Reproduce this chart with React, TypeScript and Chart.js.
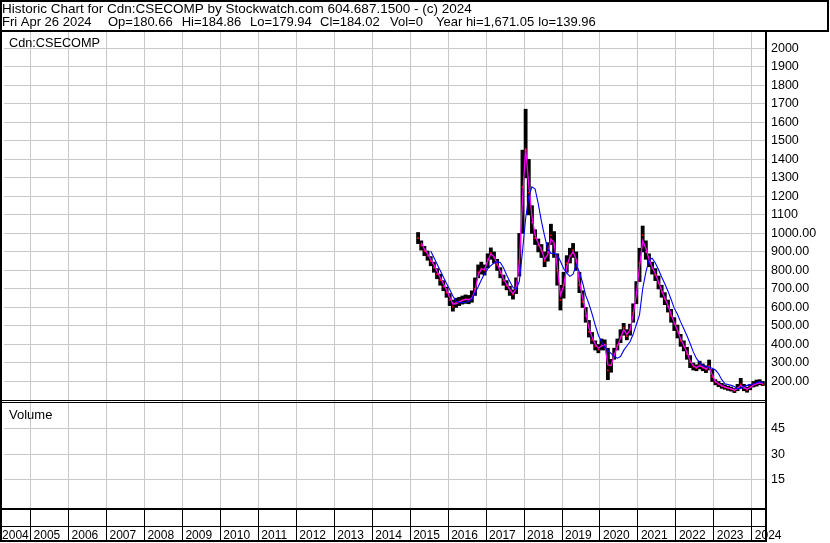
import React, { useEffect, useRef } from 'react';
import { Chart, registerables } from 'chart.js';

Chart.register(...registerables);

// ---------- data (monthly) ----------
const MONTHS = [
  '2015-03', '2015-04', '2015-05', '2015-06', '2015-07', '2015-08', '2015-09', '2015-10', '2015-11', '2015-12',
  '2016-01', '2016-02', '2016-03', '2016-04', '2016-05', '2016-06', '2016-07', '2016-08', '2016-09', '2016-10', '2016-11', '2016-12',
  '2017-01', '2017-02', '2017-03', '2017-04', '2017-05', '2017-06', '2017-07', '2017-08', '2017-09', '2017-10', '2017-11', '2017-12',
  '2018-01', '2018-02', '2018-03', '2018-04', '2018-05', '2018-06', '2018-07', '2018-08', '2018-09', '2018-10', '2018-11', '2018-12',
  '2019-01', '2019-02', '2019-03', '2019-04', '2019-05', '2019-06', '2019-07', '2019-08', '2019-09', '2019-10', '2019-11', '2019-12',
  '2020-01', '2020-02', '2020-03', '2020-04', '2020-05', '2020-06', '2020-07', '2020-08', '2020-09', '2020-10', '2020-11', '2020-12',
  '2021-01', '2021-02', '2021-03', '2021-04', '2021-05', '2021-06', '2021-07', '2021-08', '2021-09', '2021-10', '2021-11', '2021-12',
  '2022-01', '2022-02', '2022-03', '2022-04', '2022-05', '2022-06', '2022-07', '2022-08', '2022-09', '2022-10', '2022-11', '2022-12',
  '2023-01', '2023-02', '2023-03', '2023-04', '2023-05', '2023-06', '2023-07', '2023-08', '2023-09', '2023-10', '2023-11', '2023-12',
  '2024-01', '2024-02', '2024-03', '2024-04',
];

const HIGH = [
  1005, 960, 930, 905, 875, 845, 810, 780, 745, 710,
  675, 640, 650, 655, 662, 668, 665, 690, 760, 830, 845, 830,
  890, 922, 900, 860, 815, 775, 745, 715, 695, 760, 1000, 1450,
  1671, 1400, 1150, 1020, 970, 940, 900, 950, 1050, 1010, 890, 720,
  790, 880, 920, 946, 900, 790, 690, 600, 530, 465, 420, 400,
  430, 425, 380, 320, 380, 430, 480, 514, 480, 510, 620, 740,
  920, 1040, 960, 890, 845, 810, 770, 720, 680, 640, 590, 545,
  505, 455, 420, 385, 340, 300, 290, 310, 295, 285, 316, 265,
  210, 200, 190, 182, 175, 170, 162, 185, 217, 185, 170, 185,
  200, 208, 210, 200,
];

const LOW = [
  945, 910, 880, 855, 825, 790, 755, 720, 690, 655,
  610, 580, 600, 610, 618, 622, 620, 628, 665, 760, 780, 775,
  815, 860, 840, 800, 760, 720, 695, 665, 645, 675, 770, 1000,
  1300, 1100, 1000, 940, 900, 870, 820, 850, 940, 870, 720, 586,
  650, 790, 840, 870, 800, 680, 600, 520, 440, 405, 370, 355,
  370, 370, 210, 250, 320, 370, 410, 450, 425, 450, 520, 620,
  740, 900, 860, 820, 780, 745, 700, 655, 615, 575, 520, 475,
  435, 390, 365, 320, 275, 262, 258, 268, 258, 248, 262, 200,
  182, 172, 163, 158, 152, 148, 140, 150, 165, 150, 142, 155,
  170, 175, 182, 178,
];

const CLOSE = [
  975, 935, 905, 880, 850, 815, 780, 748, 712, 680,
  640, 605, 625, 632, 640, 645, 642, 650, 700, 790, 810, 800,
  860, 895, 870, 830, 785, 745, 718, 690, 670, 710, 850, 1250,
  1450, 1220, 1060, 975, 935, 905, 850, 900, 990, 940, 800, 640,
  720, 840, 880, 910, 850, 720, 630, 555, 470, 425, 390, 372,
  395, 400, 260, 290, 350, 395, 440, 490, 445, 480, 570, 680,
  840, 990, 900, 850, 810, 775, 730, 685, 645, 605, 555, 510,
  470, 420, 390, 350, 305, 280, 272, 288, 275, 265, 285, 225,
  195, 185, 175, 168, 163, 158, 150, 165, 185, 165, 155, 170,
  185, 188, 195, 184,
];

const MA_SHORT = [
  null, 950, 915, 890, 860, 830, 795, 762, 728, 695,
  655, 618, 620, 630, 638, 644, 643, 648, 690, 775, 808, 805,
  850, 890, 875, 838, 795, 755, 725, 698, 675, 700, 840, 1180,
  1460, 1260, 1090, 990, 945, 912, 860, 885, 970, 950, 820, 665,
  715, 820, 875, 900, 860, 740, 655, 575, 490, 440, 402, 380,
  392, 398, 290, 285, 340, 390, 435, 480, 455, 478, 560, 670,
  820, 960, 920, 860, 818, 782, 738, 692, 650, 612, 562, 518,
  478, 430, 395, 358, 312, 285, 275, 285, 278, 268, 280, 235,
  200, 188, 178, 170, 165, 160, 153, 162, 178, 168, 158, 168,
  180, 188, 193, 188,
];

const MA_LONG = [
  null, null, null, null, 905, 870, 835, 800, 765, 730,
  697, 662, 633, 627, 626, 628, 632, 645, 680, 712, 748, 782,
  808, 826, 840, 846, 843, 815, 775, 740, 708, 698, 740, 900,
  1080, 1200, 1252, 1240, 1160, 1065, 985, 915, 892, 892, 885, 850,
  810, 785, 768, 780, 830, 790, 735, 665, 620, 565, 505, 450,
  415, 385, 368, 352, 335, 326, 335, 368, 392, 415, 455, 508,
  560, 700, 790, 856, 866, 840, 805, 765, 728, 688, 643, 595,
  563, 522, 485, 447, 405, 360, 325, 302, 287, 282, 276, 272,
  262, 242, 210, 188, 184, 179, 173, 160, 163, 173, 179, 183,
  187, 193, 199, 192,
];

const PRICE_TICKS = [200, 300, 400, 500, 600, 700, 800, 900, 1000, 1100, 1200, 1300, 1400, 1500, 1600, 1700, 1800, 1900, 2000];
const VOLUME_TICKS = [15, 30, 45];
const YEAR_TICKS = [2004.17, 2005, 2006, 2007, 2008, 2009, 2010, 2011, 2012, 2013, 2014, 2015, 2016, 2017, 2018, 2019, 2020, 2021, 2022, 2023, 2024];
const YEAR_LABELS = ['2004', '2005', '2006', '2007', '2008', '2009', '2010', '2011', '2012', '2013', '2014', '2015', '2016', '2017', '2018', '2019', '2020', '2021', '2022', '2023', '2024'];

const X_MIN = 2004.3;
const X_MAX = 2024.374;
const PRICE_MIN = 94.7;
const PRICE_MAX = 2098.9;
const VOL_MIN = -1.84;
const VOL_MAX = 60.84;

const HEADER_1 = 'Historic Chart for Cdn:CSECOMP by Stockwatch.com 604.687.1500 - (c) 2024';
const HEADER_2: [string, number][] = [
  ['Fri Apr 26 2024', 2],
  ['Op=180.66', 108],
  ['Hi=184.86', 181.7],
  ['Lo=179.94', 250],
  ['Cl=184.02', 320],
  ['Vol=0', 390],
  ['Year hi=1,671.05', 436],
  ['lo=139.96', 538.3],
];
const SYMBOL_LABEL = 'Cdn:CSECOMP';
const VOLUME_LABEL = 'Volume';

const FONT = '"Liberation Sans", Arial, sans-serif';

function toYear(s: string): number {
  const [y, m] = s.split('-').map(Number);
  return y + (m - 0.5) / 12;
}

const framePlugin = {
  id: 'frame',
  afterDraw(chart: any) {
    const ctx = chart.ctx as CanvasRenderingContext2D;
    const { right, top, bottom } = chart.chartArea;
    const yPrice = chart.scales.y;
    ctx.save();
    ctx.fillStyle = '#000';
    // header box
    ctx.fillRect(0, 0, 829, 2);
    ctx.fillRect(827, 0, 2, 31);
    ctx.fillRect(0, 30, 829, 2);
    // left border
    ctx.fillRect(0, 0, 2, 542);
    // right border of plot
    ctx.fillRect(right - 1, top, 2, 542 - top);
    // panel separator (double line)
    ctx.fillRect(0, Math.round(yPrice.bottom) - 1, right, 1);
    ctx.fillRect(0, Math.round(yPrice.bottom) + 1, right, 1);
    // x axis lines
    ctx.fillRect(0, bottom - 1, right + 1, 2);
    ctx.fillRect(0, 526, right, 1);
    ctx.fillRect(0, 540, right + 1, 2);

    // texts
    ctx.textBaseline = 'alphabetic';
    ctx.textAlign = 'left';
    ctx.font = `13.5px ${FONT}`;
    ctx.fillText(HEADER_1, 2, 12.5);
    ctx.font = `13px ${FONT}`;
    HEADER_2.forEach(([t, x]) => ctx.fillText(t, x, 26));
    ctx.font = `12.7px ${FONT}`;
    ctx.fillText(SYMBOL_LABEL, 9, 46.5);
    ctx.font = `13px ${FONT}`;
    ctx.fillText(VOLUME_LABEL, 9, 418.5);
    ctx.restore();
  },
};

export default function App() {
  const ref = useRef<HTMLCanvasElement | null>(null);

  useEffect(() => {
    if (!ref.current) return;
    const xs = MONTHS.map(toYear);
    const chart = new Chart(ref.current, {
      type: 'bar',
      data: {
        datasets: [
          {
            type: 'line',
            label: 'MA long',
            data: xs.map((x, i) => ({ x, y: MA_LONG[i] })),
            borderColor: '#0000ff',
            borderWidth: 1.1,
            pointRadius: 0,
            tension: 0,
            xAxisID: 'x',
            yAxisID: 'y',
            order: 0,
          } as any,
          {
            type: 'line',
            label: 'MA short',
            data: xs.map((x, i) => ({ x, y: MA_SHORT[i] })),
            borderColor: '#ff00ff',
            borderWidth: 1.3,
            pointRadius: 0,
            tension: 0,
            xAxisID: 'x',
            yAxisID: 'y',
            order: 1,
          } as any,
          {
            type: 'line',
            label: 'Close',
            data: xs.map((x, i) => ({ x, y: CLOSE[i] })),
            showLine: false,
            pointStyle: 'rect',
            pointRadius: 1.2,
            pointBackgroundColor: '#ff0000',
            pointBorderWidth: 0,
            xAxisID: 'x',
            yAxisID: 'y',
            order: 2,
          } as any,
          {
            type: 'bar',
            label: 'Range',
            data: xs.map((x, i) => ({ x, y: [LOW[i], HIGH[i]] })),
            backgroundColor: '#000000',
            borderWidth: 0,
            barPercentage: 1,
            categoryPercentage: 1,
            xAxisID: 'x',
            yAxisID: 'y',
            order: 3,
          } as any,
        ],
      },
      options: {
        responsive: false,
        animation: false,
        devicePixelRatio: 1,
        layout: { padding: { top: 30, left: 0, right: 0, bottom: 0 } },
        plugins: { legend: { display: false }, tooltip: { enabled: false }, title: { display: false } },
        scales: {
          x: {
            type: 'linear',
            min: X_MIN,
            max: X_MAX,
            offset: false,
            afterBuildTicks: (s: any) => {
              s.ticks = YEAR_TICKS.map((v) => ({ value: v }));
            },
            afterFit: (s: any) => {
              s.height = 34;
            },
            ticks: {
              autoSkip: false,
              maxRotation: 0,
              minRotation: 0,
              align: 'start',
              labelOffset: 3,
              padding: -12.5,
              color: '#000',
              font: { family: FONT, size: 12 },
              callback: (_v: any, i: number) => YEAR_LABELS[i],
            },
            grid: { color: '#c8c8c8', tickColor: '#000', tickLength: 32, drawTicks: true, lineWidth: 1, offset: false },
            border: { display: false },
          },
          y: {
            type: 'linear',
            position: 'right',
            stack: 'panels',
            stackWeight: 371,
            min: PRICE_MIN,
            max: PRICE_MAX,
            afterBuildTicks: (s: any) => {
              s.ticks = PRICE_TICKS.map((v) => ({ value: v }));
            },
            afterFit: (s: any) => {
              s.width = 64;
            },
            ticks: {
              autoSkip: false,
              padding: 5,
              color: '#000',
              font: { family: FONT, size: 12.5 },
              callback: (v: any) => (v >= 1100 ? String(v) : Number(v).toFixed(2)),
            },
            grid: { color: '#c8c8c8', drawTicks: false, lineWidth: 1 },
            border: { display: false },
          },
          yVol: {
            type: 'linear',
            position: 'right',
            stack: 'panels',
            stackWeight: 108,
            min: VOL_MIN,
            max: VOL_MAX,
            afterBuildTicks: (s: any) => {
              s.ticks = VOLUME_TICKS.map((v) => ({ value: v }));
            },
            afterFit: (s: any) => {
              s.width = 64;
            },
            ticks: {
              autoSkip: false,
              padding: 5,
              color: '#000',
              font: { family: FONT, size: 12.5 },
              callback: (v: any) => String(v),
            },
            grid: { color: '#c8c8c8', drawTicks: false, lineWidth: 1 },
            border: { display: false },
          },
        },
      } as any,
      plugins: [framePlugin],
    });
    return () => chart.destroy();
  }, []);

  return (
    <canvas
      ref={ref}
      width={830}
      height={543}
      style={{ position: 'absolute', left: 0, top: 0, width: 830, height: 543, background: '#fff' }}
    />
  );
}
